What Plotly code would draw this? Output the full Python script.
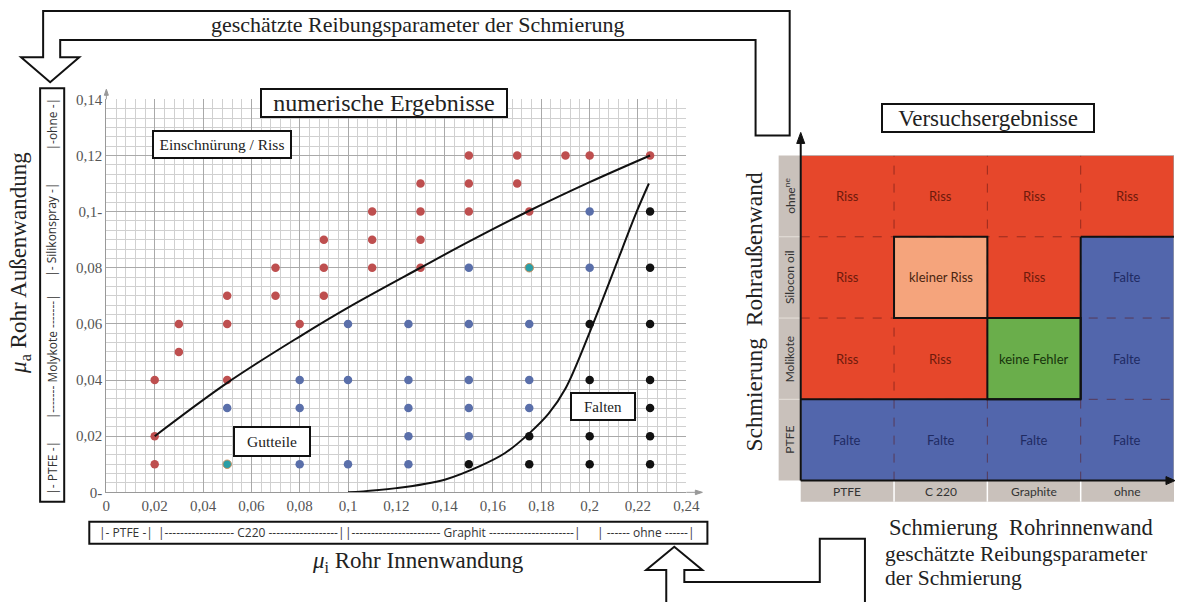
import plotly.graph_objects as go

# target-picture pixel -> paper fraction (the page renders the paper at ~1167x590, offset 5,8)
def px(x): return (x - 5) / 1167
def py(y): return 1 - (y - 8) / 590
def clamp(v): return max(0.0, min(1.0, v))

# ---------------- data: numerical results ----------------
riss_x = [0.02, 0.02, 0.02, 0.03, 0.03, 0.05, 0.05, 0.05, 0.07, 0.07, 0.08, 0.09, 0.09, 0.09,
          0.11, 0.11, 0.11, 0.13, 0.13, 0.13, 0.13, 0.15, 0.15, 0.15, 0.17, 0.17, 0.175, 0.19, 0.2, 0.225]
riss_y = [0.01, 0.02, 0.04, 0.05, 0.06, 0.04, 0.06, 0.07, 0.07, 0.08, 0.06, 0.07, 0.08, 0.09,
          0.08, 0.09, 0.10, 0.08, 0.09, 0.10, 0.11, 0.10, 0.11, 0.12, 0.11, 0.12, 0.10, 0.12, 0.12, 0.12]
gut_x = [0.05, 0.08, 0.08, 0.08, 0.1, 0.1, 0.1, 0.125, 0.125, 0.125, 0.125, 0.125,
         0.15, 0.15, 0.15, 0.15, 0.15, 0.175, 0.175, 0.175, 0.2, 0.2]
gut_y = [0.03, 0.01, 0.03, 0.04, 0.01, 0.04, 0.06, 0.01, 0.02, 0.03, 0.04, 0.06,
         0.02, 0.03, 0.04, 0.06, 0.08, 0.03, 0.04, 0.06, 0.08, 0.10]
falten_x = [0.15, 0.175, 0.175, 0.2, 0.2, 0.2, 0.2, 0.225, 0.225, 0.225, 0.225, 0.225, 0.225, 0.225]
falten_y = [0.01, 0.01, 0.02, 0.01, 0.02, 0.04, 0.06, 0.01, 0.02, 0.03, 0.04, 0.06, 0.08, 0.10]
grenz_x = [0.05, 0.175]
grenz_y = [0.01, 0.08]

riss_grenze_x = [0.02, 0.05, 0.08, 0.1, 0.13, 0.15, 0.175, 0.2, 0.225]
riss_grenze_y = [0.02, 0.039, 0.0555, 0.0658, 0.08, 0.0893, 0.1003, 0.1105, 0.12]
falten_grenze_x = [0.1, 0.12, 0.14, 0.155, 0.165, 0.175, 0.183, 0.19, 0.2, 0.21, 0.219, 0.2245]
falten_grenze_y = [0.0, 0.0015, 0.0045, 0.0095, 0.014, 0.021, 0.028, 0.037, 0.057, 0.079, 0.099, 0.11]

x_tickvals = [0, 0.02, 0.04, 0.06, 0.08, 0.1, 0.12, 0.14, 0.16, 0.18, 0.2, 0.22, 0.24]
x_ticktext = ["0", "0,02", "0,04", "0,06", "0,08", "0,1", "0,12", "0,14", "0,16", "0,18", "0,2", "0,22", "0,24"]
y_tickvals = [0, 0.02, 0.04, 0.06, 0.08, 0.1, 0.12, 0.14]
y_ticktext = ["0-", "0,02", "0,04", "0,06", "0,08", "0,1-", "0,12", "0,14"]

# ---------------- data: experimental results ----------------
innen = ["PTFE", "C 220", "Graphite", "ohne"]
aussen = ["PTFE", "Molikote", "Silocon oil", "ohne"]          # bottom -> top
aussen_labels = ["PTFE", "Molikote", "Silocon oil", "ohne<sup>ne</sup>"]
ergebnis = [
    ["Falte", "Falte", "Falte", "Falte"],
    ["Riss", "Riss", "keine Fehler", "Falte"],
    ["Riss", "kleiner Riss", "Riss", "Falte"],
    ["Riss", "Riss", "Riss", "Riss"],
]
codes = {"Falte": 0, "Riss": 1, "kleiner Riss": 2, "keine Fehler": 3}
cell_fill = ["#5266ac", "#e6472b", "#f5a47c", "#6aae4b"]
cell_text = {"Falte": "#1f2b63", "Riss": "#6e1a0c", "kleiner Riss": "#4a2410", "keine Fehler": "#17340c"}

SERIF = "Liberation Serif, Times New Roman, serif"
SANS = "Open Sans, Lato, sans-serif"

fig = go.Figure()

mk = dict(size=8.5)
fig.add_trace(go.Scatter(x=riss_x, y=riss_y, mode="markers", marker=dict(color="#be4f4f", **mk), name="Riss"))
fig.add_trace(go.Scatter(x=gut_x, y=gut_y, mode="markers", marker=dict(color="#5a6faa", **mk), name="Gutteile"))
fig.add_trace(go.Scatter(x=falten_x, y=falten_y, mode="markers", marker=dict(color="#111111", **mk), name="Falten"))
fig.add_trace(go.Scatter(x=grenz_x, y=grenz_y, mode="markers",
                         marker=dict(color="#2a9ea6", size=8.5, line=dict(color="#c89060", width=1)), name="Grenze"))
fig.add_trace(go.Scatter(x=riss_grenze_x, y=riss_grenze_y, mode="lines", line=dict(color="#111", width=2, shape="spline")))
fig.add_trace(go.Scatter(x=falten_grenze_x, y=falten_grenze_y, mode="lines", line=dict(color="#111", width=2, shape="spline")))

z = [[codes[v] for v in row] for row in ergebnis]
cs = [[0, cell_fill[0]], [0.25, cell_fill[0]], [0.25, cell_fill[1]], [0.5, cell_fill[1]],
      [0.5, cell_fill[2]], [0.75, cell_fill[2]], [0.75, cell_fill[3]], [1, cell_fill[3]]]
fig.add_trace(go.Heatmap(x=innen, y=aussen, z=z, colorscale=cs, zmin=-0.5, zmax=3.5,
                         showscale=False, xaxis="x2", yaxis="y2", hoverinfo="skip"))

annotations = []
shapes = []
C = dict(xanchor="center", yanchor="middle", showarrow=False)

HM_R = 1171  # right edge of heat map in picture pixels (paper ends at ~1172)

for i, row in enumerate(ergebnis):
    for j, v in enumerate(row):
        annotations.append(dict(x=innen[j], y=aussen[i], xref="x2", yref="y2", text=v, **C,
                                font=dict(family="Lato, sans-serif", size=13, color=cell_text[v])))

shapes.append(dict(type="rect", xref="paper", yref="paper", x0=px(777), x1=px(799), y0=py(479), y1=py(155),
                   fillcolor="#c9c1bb", line=dict(width=0), layer="below"))
shapes.append(dict(type="rect", xref="paper", yref="paper", x0=px(799), x1=px(HM_R), y0=py(500), y1=py(479),
                   fillcolor="#c9c1bb", line=dict(width=0), layer="below"))
for b in [0.5, 1.5, 2.5]:
    shapes.append(dict(type="line", xref="x2", yref="paper", x0=b, x1=b, y0=py(500), y1=py(479),
                       line=dict(color="white", width=1.5)))
    shapes.append(dict(type="line", xref="paper", yref="y2", x0=px(777), x1=px(799), y0=b, y1=b,
                       line=dict(color="#e6e0da", width=1)))
for j, name in enumerate(innen):
    annotations.append(dict(x=name, y=py(489.5), xref="x2", yref="paper", text=name, **C,
                            font=dict(family="Lato, sans-serif", size=12, color="#333")))
for i, name in enumerate(aussen):
    annotations.append(dict(x=px(788), y=name, xref="paper", yref="y2", text=aussen_labels[i], **C,
                            textangle=-90, font=dict(family="Lato, sans-serif", size=12, color="#333")))

for b in [0.5, 1.5, 2.5]:
    shapes.append(dict(type="line", xref="x2", yref="y2", x0=b, x1=b, y0=-0.5, y1=3.5,
                       line=dict(color="rgba(90,20,20,0.55)", width=1, dash="dash")))
    shapes.append(dict(type="line", xref="x2", yref="y2", x0=-0.5, x1=3.5, y0=b, y1=b,
                       line=dict(color="rgba(90,20,20,0.55)", width=1, dash="dash")))
shapes.append(dict(type="rect", xref="x2", yref="y2", x0=-0.5, x1=3.5, y0=-0.5, y1=3.5,
                   line=dict(color="#888", width=1)))
thick = dict(color="#111", width=2)
shapes.append(dict(type="rect", xref="x2", yref="y2", x0=0.5, x1=1.5, y0=1.5, y1=2.5, line=thick))
shapes.append(dict(type="rect", xref="x2", yref="y2", x0=1.5, x1=2.5, y0=0.5, y1=1.5, line=thick))
shapes.append(dict(type="line", xref="x2", yref="y2", x0=-0.5, x1=2.5, y0=0.5, y1=0.5, line=thick))
shapes.append(dict(type="line", xref="x2", yref="y2", x0=2.5, x1=2.5, y0=0.5, y1=2.5, line=thick))
shapes.append(dict(type="line", xref="x2", yref="y2", x0=2.5, x1=3.5, y0=2.5, y1=2.5, line=thick))

def path(pts, close=False):
    s = "M " + " L ".join(f"{px(x):.5f},{py(y):.5f}" for x, y in pts)
    return s + (" Z" if close else "")

def arrow(x0, y0, x1, y1, color, width, head):
    shapes.append(dict(type="line", xref="paper", yref="paper", x0=px(x0), y0=py(y0), x1=px(x1), y1=py(y1),
                       line=dict(color=color, width=width)))
    shapes.append(dict(type="path", xref="paper", yref="paper", path=path(head, close=True),
                       fillcolor=color, line=dict(color=color, width=1)))

arrow(799, 479, 799, 140, "#111", 2, [(795, 143), (799, 132), (803, 143)])
arrow(799, 479, 1164, 479, "#111", 2, [(1163, 475), (1172, 479), (1163, 483)])
arrow(685, 490.7, 696, 490.7, "#999", 1, [(694, 488.5), (701, 490.7), (694, 493)])
arrow(107, 99, 107, 94, "#999", 1, [(105, 95), (107, 89), (109, 95)])

def box(text, cx, cy, w, h, size):
    annotations.append(dict(x=px(cx), y=py(cy), xref="paper", yref="paper", text=text, **C,
                            width=w, height=h, bgcolor="white", bordercolor="#111", borderwidth=2, borderpad=0,
                            font=dict(family=SERIF, size=size, color="#222")))

box("numerische Ergebnisse", 384, 103, 244, 26, 24)
box("Einschnürung / Riss", 222, 144.5, 136, 25, 15.5)
box("Gutteile", 272, 440, 74, 27, 15.5)
box("Falten", 602, 405, 62, 25, 15)
box("Versuchsergebnisse", 986, 118, 210, 26, 23)

def txt(text, cx, cy, size, angle=0, xanchor="center", align="center"):
    annotations.append(dict(x=px(cx), y=py(cy), xref="paper", yref="paper", text=text, showarrow=False,
                            textangle=angle, xanchor=xanchor, yanchor="middle", align=align,
                            font=dict(family=SERIF, size=size, color="#222")))

txt("geschätzte Reibungsparameter der Schmierung", 418, 24, 22)
txt("<i>μ</i><sub>a</sub> Rohr Außenwandung", 21, 262, 23, angle=-90)
txt("<i>μ</i><sub>i</sub> Rohr Innenwandung", 418, 560, 23)
txt("Schmierung  Rohraußenwand", 752, 311, 23.5, angle=-90)
txt("Schmierung  Rohrinnenwand", 1019, 526, 22.5)
txt("geschätzte Reibungsparameter", 881, 552, 21.5, xanchor="left", align="left")
txt("der Schmierung", 881, 576, 21.5, xanchor="left", align="left")

shapes.append(dict(type="rect", xref="paper", yref="paper", x0=px(41), x1=px(65), y0=py(500), y1=py(88),
                   line=dict(color="#111", width=2)))
shapes.append(dict(type="rect", xref="paper", yref="paper", x0=px(90), x1=px(706), y0=py(542), y1=py(520),
                   line=dict(color="#111", width=2)))
def side(text, cx, cy, angle=0):
    annotations.append(dict(x=px(cx), y=py(cy), xref="paper", yref="paper", text=text, **C,
                            textangle=angle, font=dict(family=SANS, size=12, color="#333")))
side("|- PTFE -|", 53, 466, -90)
side("|------- Molykote -------|", 53, 356, -90)
side("|- Silikonspray -|", 53, 229, -90)
side("|-ohne -|", 53, 124, -90)
side("|- PTFE -|", 127, 531)
side("|------------------ C220 ------------------|", 252, 531)
side("|----------------------- Graphit ----------------------|", 462, 531)
side("| ------ ohne ------|", 645, 531)

shapes.append(dict(type="path", xref="paper", yref="paper", line=dict(color="#111", width=2),
                   path=path([(788, 135), (788, 11), (44, 11), (44, 57), (22, 57), (51, 82), (80, 57),
                              (61, 57), (61, 40), (754, 40), (754, 135)], close=True)))
shapes.append(dict(type="path", xref="paper", yref="paper", line=dict(color="#111", width=2),
                   path=path([(665, 600), (665, 568), (645, 568), (673, 545), (701, 568), (683, 568),
                              (683, 580), (818, 580), (818, 537), (863, 537), (863, 600)])))

fig.update_layout(
    autosize=True, margin=dict(l=0, r=0, t=0, b=0),
    paper_bgcolor="white", plot_bgcolor="white", showlegend=False,
    xaxis=dict(domain=[clamp(px(107)), clamp(px(685))], range=[0, 0.24], tickvals=x_tickvals, ticktext=x_ticktext,
               showgrid=True, gridcolor="#a9a9a9", gridwidth=1, zeroline=False,
               showline=True, linecolor="#999", linewidth=1,
               minor=dict(dtick=0.004, tick0=0, showgrid=True, gridcolor="#d0d0d0", gridwidth=1),
               tickfont=dict(family=SERIF, size=15, color="#555"), fixedrange=True),
    yaxis=dict(domain=[clamp(py(490.7)), clamp(py(99))], range=[0, 0.14], tickvals=y_tickvals, ticktext=y_ticktext,
               showgrid=True, gridcolor="#a9a9a9", gridwidth=1, zeroline=False,
               showline=True, linecolor="#999", linewidth=1,
               minor=dict(dtick=0.02 / 6, tick0=0, showgrid=True, gridcolor="#d0d0d0", gridwidth=1),
               tickfont=dict(family=SERIF, size=15, color="#555"), fixedrange=True),
    xaxis2=dict(domain=[clamp(px(799)), clamp(px(HM_R))], range=[-0.5, 3.5], type="category",
                categoryorder="array", categoryarray=innen, showticklabels=False, showgrid=False,
                zeroline=False, anchor="y2"),
    yaxis2=dict(domain=[clamp(py(479)), clamp(py(155))], range=[-0.5, 3.5], type="category",
                categoryorder="array", categoryarray=aussen, showticklabels=False, showgrid=False,
                zeroline=False, anchor="x2"),
    annotations=annotations, shapes=shapes,
)

post = ("document.documentElement.style.margin='0';document.documentElement.style.padding='0';"
        "document.documentElement.style.overflow='hidden';"
        "document.body.style.margin='0';document.body.style.padding='0';document.body.style.overflow='hidden';"
        "var gd=document.getElementById('{plot_id}');"
        "Plotly.relayout(gd,{width:window.innerWidth,height:window.innerHeight});")

fig.write_html("out.html", config={"displayModeBar": False, "responsive": True},
               default_width="100vw", default_height="100vh", post_script=post)
